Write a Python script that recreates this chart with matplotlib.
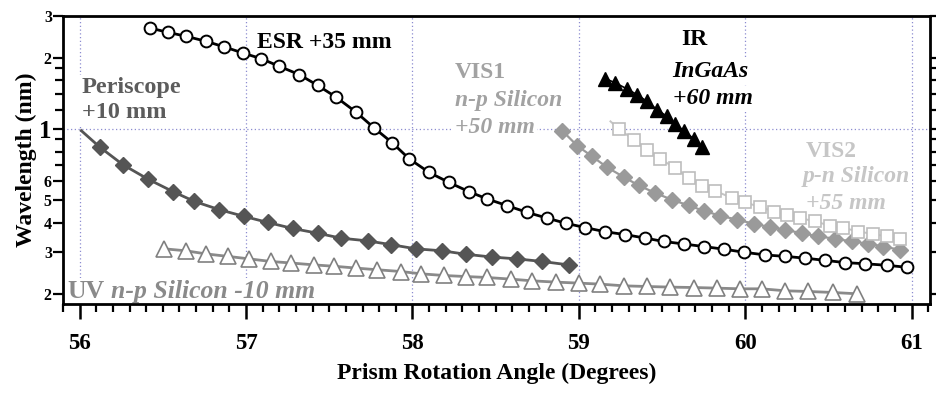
import matplotlib
matplotlib.use('Agg')
import matplotlib.pyplot as plt
from matplotlib.ticker import FixedLocator, FixedFormatter, NullFormatter

plt.rcParams['font.family'] = ['Liberation Serif', 'DejaVu Serif']
plt.rcParams['font.weight'] = 'bold'
plt.rcParams['axes.labelweight'] = 'bold'

# ---- data (angle in degrees, wavelength) ----
esr_x = [56.42, 56.53, 56.64, 56.76, 56.87, 56.98, 57.09, 57.20, 57.32, 57.43,
         57.54, 57.66, 57.77, 57.88, 57.98, 58.10, 58.22, 58.34, 58.45, 58.57,
         58.69, 58.81, 58.92, 59.04, 59.16, 59.28, 59.40, 59.51, 59.63, 59.75,
         59.87, 59.99, 60.12, 60.24, 60.36, 60.48, 60.60, 60.72, 60.85, 60.97]
esr_y = [2.671, 2.559, 2.461, 2.344, 2.219, 2.093, 1.980, 1.837, 1.694, 1.526,
         1.362, 1.177, 1.007, 0.870, 0.746, 0.653, 0.592, 0.541, 0.504, 0.472,
         0.442, 0.418, 0.398, 0.381, 0.366, 0.356, 0.344, 0.333, 0.325, 0.317,
         0.309, 0.300, 0.292, 0.288, 0.283, 0.277, 0.271, 0.268, 0.264, 0.259]

peri_x = [56.01, 56.12, 56.26, 56.41, 56.56, 56.69, 56.84, 56.99, 57.13, 57.28,
          57.43, 57.57, 57.73, 57.87, 58.02, 58.18, 58.32, 58.48, 58.63, 58.78, 58.94]
peri_y = [0.981, 0.837, 0.704, 0.612, 0.542, 0.492, 0.454, 0.425, 0.401, 0.378,
          0.361, 0.344, 0.335, 0.323, 0.310, 0.304, 0.294, 0.286, 0.281, 0.274, 0.265]

uv_x = [56.51, 56.64, 56.76, 56.89, 57.02, 57.15, 57.27, 57.41, 57.53, 57.66,
        57.79, 57.93, 58.05, 58.19, 58.32, 58.45, 58.59, 58.72, 58.86, 59.00,
        59.13, 59.27, 59.41, 59.55, 59.69, 59.83, 59.97, 60.10, 60.24, 60.38,
        60.53, 60.67]
uv_y = [0.310, 0.304, 0.295, 0.288, 0.281, 0.274, 0.270, 0.265, 0.2615, 0.257,
        0.2527, 0.2485, 0.243, 0.239, 0.2366, 0.2344, 0.2307, 0.2269, 0.2241, 0.2219,
        0.2197, 0.2161, 0.2147, 0.2134, 0.2126, 0.2113, 0.2099, 0.2099, 0.2059, 0.2045,
        0.2025, 0.200]

vis1_x = [58.90, 58.99, 59.08, 59.17, 59.27, 59.36, 59.46, 59.56, 59.66, 59.75,
          59.85, 59.95, 60.05, 60.15, 60.24, 60.34, 60.44, 60.54, 60.64, 60.74,
          60.83, 60.93]
vis1_y = [0.981, 0.847, 0.763, 0.686, 0.624, 0.575, 0.534, 0.500, 0.473, 0.449,
          0.428, 0.412, 0.396, 0.383, 0.373, 0.361, 0.350, 0.342, 0.333, 0.326,
          0.317, 0.307]

vis2_x = [59.19, 59.24, 59.33, 59.41, 59.49, 59.58, 59.66, 59.74, 59.82, 59.92,
          60.00, 60.09, 60.17, 60.25, 60.33, 60.42, 60.51, 60.59, 60.68, 60.77,
          60.85, 60.93]
vis2_y = [1.074, 0.997, 0.898, 0.815, 0.744, 0.681, 0.618, 0.572, 0.545, 0.509,
          0.487, 0.466, 0.446, 0.432, 0.418, 0.405, 0.388, 0.380, 0.367, 0.358,
          0.350, 0.342]

ir_x = [59.16, 59.22, 59.29, 59.35, 59.41, 59.47, 59.53, 59.58, 59.63, 59.69, 59.74]
ir_y = [1.629, 1.562, 1.473, 1.393, 1.305, 1.204, 1.127, 1.047, 0.981, 0.907, 0.837]

grid_x = [56, 57, 58, 59, 60, 61]
grid_y = [1]

x_major = [56, 57, 58, 59, 60, 61]
y_major = [0.2, 0.3, 0.4, 0.5, 0.6, 1, 2, 3]
y_major_labels = ['2', '3', '4', '5', '6', '1', '2', '3']
y_minor = [0.7, 0.8, 0.9, 1.2, 1.4, 1.6, 1.8]

fig = plt.figure(figsize=(9.37, 3.94), dpi=100)
ax = fig.add_axes([0.0672, 0.2284, 0.9253, 0.731])
ax.set_yscale('log')
ax.set_xlim(55.90, 61.11)
ax.set_ylim(0.181, 3.0)

gcol = '#8c8cd0'
for g in grid_x:
    ax.axvline(g, color=gcol, lw=0.9, ls=(0, (1, 2)), zorder=0.5)
for g in grid_y:
    ax.axhline(g, color=gcol, lw=0.9, ls=(0, (1, 2)), zorder=0.5)

# series
ax.plot(esr_x, esr_y, '-o', color='black', lw=2, ms=8.5, mfc='white', mec='black',
        mew=1.4, zorder=4)
ax.plot(peri_x, peri_y, '-D', color='#555555', lw=2, ms=8.5, mec='#555555',
        markevery=list(range(1, len(peri_x))), zorder=4)
ax.plot(uv_x, uv_y, '-^', color='#8a8a8a', lw=2, ms=11.5, mfc='white', mec='#808080',
        mew=1.2, zorder=4)
ax.plot(vis1_x, vis1_y, '-D', color='#9a9a9a', lw=1.6, ms=8, mec='#9a9a9a', zorder=4)
ax.plot(vis2_x, vis2_y, '-s', color='#c4c4c4', lw=1.4, ms=8.5, mfc='white', mec='#bdbdbd',
        mew=1.2, markevery=list(range(1, len(vis2_x))), zorder=4)
ax.plot(ir_x, ir_y, '-^', color='black', lw=1.2, ms=10, zorder=4)

box = dict(facecolor='white', edgecolor='none', pad=1.5)
fs = 17
ax.text(57.064, 2.198, 'ESR +35 mm', fontsize=fs, color='black', va='baseline', bbox=box, zorder=2)
ax.text(56.012, 1.420, 'Periscope', fontsize=fs + 0.5, color='#5c5c5c', va='baseline', bbox=box, zorder=2)
ax.text(56.012, 1.113, '+10 mm', fontsize=fs + 0.5, color='#5c5c5c', va='baseline', bbox=box, zorder=2)
c1 = '#a2a2a2'
ax.text(58.254, 1.645, 'VIS1', fontsize=fs, color=c1, va='baseline', bbox=box, zorder=2)
ax.text(58.254, 1.252, 'n-p Silicon', fontsize=fs, color=c1, style='italic', va='baseline', bbox=box, zorder=2)
ax.text(58.254, 0.962, '+50 mm', fontsize=fs, color=c1, style='italic', va='baseline', bbox=box, zorder=2)
ax.text(59.618, 2.269, 'IR', fontsize=fs, color='black', va='baseline', bbox=box, zorder=2)
ax.text(59.564, 1.661, 'InGaAs', fontsize=fs, color='black', style='italic', va='baseline', bbox=box, zorder=2)
ax.text(59.564, 1.276, '+60 mm', fontsize=fs, color='black', style='italic', va='baseline', bbox=box, zorder=2)
c2 = '#c6c6c6'
ax.text(60.363, 0.761, 'VIS2', fontsize=fs, color=c2, va='baseline', bbox=box, zorder=2)
ax.text(60.345, 0.596, 'p-n Silicon', fontsize=fs, color=c2, style='italic', va='baseline', bbox=box, zorder=2)
ax.text(60.363, 0.458, '+55 mm', fontsize=fs, color=c2, style='italic', va='baseline', bbox=box, zorder=2)
c3 = '#8a8a8a'
ax.text(55.928, 0.192, 'UV', fontsize=18.5, color=c3, va='baseline', bbox=box, zorder=2)
ax.text(56.19, 0.192, 'n-p Silicon -10 mm', fontsize=18.5, color=c3, style='italic',
        va='baseline', bbox=box, zorder=2)

# axes styling
for s in ax.spines.values():
    s.set_linewidth(2)

ax.xaxis.set_major_locator(FixedLocator(x_major))
ax.xaxis.set_minor_locator(FixedLocator([56 + i * 0.1 for i in range(-1, 52)]))
ax.tick_params(axis='x', which='major', direction='out', length=11, width=1.8,
               labelsize=16.5, pad=10)
ax.tick_params(axis='x', which='minor', direction='out', length=6, width=1.6)

ax.yaxis.set_major_locator(FixedLocator(y_major))
ax.yaxis.set_major_formatter(FixedFormatter(y_major_labels))
ax.yaxis.set_minor_locator(FixedLocator(y_minor))
ax.yaxis.set_minor_formatter(NullFormatter())
ax.tick_params(axis='y', which='both', direction='out', right=True, width=1.6,
               labelsize=11.5, pad=1)
ax.tick_params(axis='y', which='major', length=7)
ax.tick_params(axis='y', which='minor', length=6)
for lab in ax.get_yticklabels():
    if lab.get_text() == '1':
        lab.set_fontsize(18)

ax.set_xlabel('Prism Rotation Angle (Degrees)', fontsize=17, fontweight='bold', labelpad=6)
ax.set_ylabel('Wavelength (nm)', fontsize=17, fontweight='bold', labelpad=2)

fig.savefig('out.png', dpi=100)
